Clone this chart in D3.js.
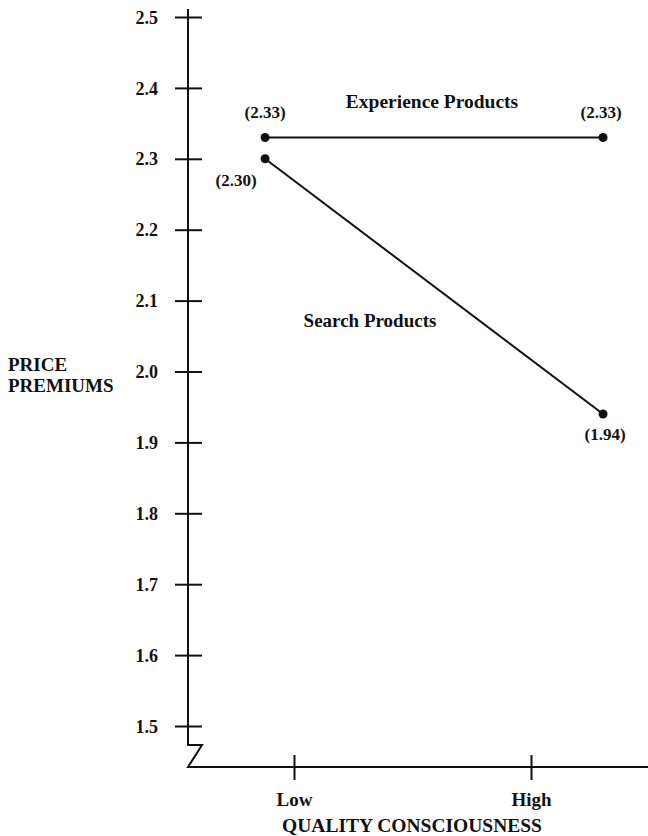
<!DOCTYPE html>
<html>
<head>
<meta charset="utf-8">
<script src="https://cdn.jsdelivr.net/npm/d3@7"></script>
<style>
  html, body { margin: 0; padding: 0; background: #fff; }
  svg { display: block; }
  text { font-family: "Liberation Serif", "Times New Roman", serif; font-weight: bold; fill: #111; }
</style>
</head>
<body>
<svg id="chart" width="648" height="836"></svg>
<script>
// ---- data ----
const categories = ["Low", "High"];
const categoryPos = [1, 2];              // tick positions on the quality axis
const markerPos = [0.878, 2.304];        // where the plotted points sit along that axis
const yTicks = [1.5, 1.6, 1.7, 1.8, 1.9, 2.0, 2.1, 2.2, 2.3, 2.4, 2.5];
const seriesNames = ["Experience Products", "Search Products"];
const experienceValues = [2.33, 2.33];
const searchValues = [2.30, 1.94];
const experienceLabels = ["(2.33)", "(2.33)"];
const searchLabels = ["(2.30)", "(1.94)"];

// ---- layout ----
const svg = d3.select("#chart");
const axisX = 188, axisTopY = 9, breakY = 745, baseY = 767;

const y = d3.scaleLinear().domain([1.5, 2.5]).range([726, 17]);
const x = d3.scaleLinear().domain([1, 2]).range([294, 531]);

const ink = "#111";

// Y axis line with break
svg.append("path")
  .attr("d", `M${axisX},${axisTopY} L${axisX},${breakY} L${axisX + 14},${breakY} L${axisX},${baseY} L648,${baseY}`)
  .attr("fill", "none").attr("stroke", ink).attr("stroke-width", 2).attr("stroke-linejoin", "miter");

// Y ticks (crossing) and labels via d3 axis
const yAxis = d3.axisLeft(y).tickValues(yTicks).tickFormat(d3.format(".1f")).tickSize(0).tickPadding(30);
const gy = svg.append("g").attr("transform", `translate(${axisX},0)`).call(yAxis);
gy.select(".domain").remove();
gy.selectAll(".tick text")
  .attr("font-size", 18).attr("font-family", "Liberation Serif").attr("font-weight", "bold").attr("fill", ink)
  .attr("dy", "0.34em");
gy.selectAll(".tick").append("line")
  .attr("x1", -13).attr("x2", 14).attr("y1", 0).attr("y2", 0)
  .attr("stroke", ink).attr("stroke-width", 2);

// X ticks and labels via d3 axis
const xAxis = d3.axisBottom(x).tickValues(categoryPos)
  .tickFormat((d, i) => categories[i]).tickSize(0).tickPadding(26);
const gx = svg.append("g").attr("transform", `translate(0,${baseY})`).call(xAxis);
gx.select(".domain").remove();
gx.selectAll(".tick text")
  .attr("font-size", 19).attr("font-family", "Liberation Serif").attr("font-weight", "bold").attr("fill", ink);
gx.selectAll(".tick").append("line")
  .attr("x1", 0).attr("x2", 0).attr("y1", -12).attr("y2", 13)
  .attr("stroke", ink).attr("stroke-width", 2);

// Axis titles
svg.append("text").attr("x", 412).attr("y", 832).attr("text-anchor", "middle")
  .attr("font-size", 19.5).text("QUALITY CONSCIOUSNESS");
const yt = svg.append("text").attr("x", 8).attr("y", 371).attr("font-size", 19);
yt.append("tspan").attr("x", 8).attr("y", 371).text("PRICE");
yt.append("tspan").attr("x", 8).attr("y", 392).text("PREMIUMS");

// Series
const line = d3.line().x(d => x(d[0])).y(d => y(d[1]));
const expPts = markerPos.map((p, i) => [p, experienceValues[i]]);
const srchPts = markerPos.map((p, i) => [p, searchValues[i]]);

[expPts, srchPts].forEach(pts => {
  svg.append("path").datum(pts).attr("d", line)
    .attr("fill", "none").attr("stroke", ink).attr("stroke-width", 2);
  svg.selectAll(null).data(pts).enter().append("circle")
    .attr("cx", d => x(d[0])).attr("cy", d => y(d[1])).attr("r", 4.5).attr("fill", ink);
});

// Point labels
svg.append("text").attr("x", x(markerPos[0])).attr("y", y(experienceValues[0]) - 20)
  .attr("text-anchor", "middle").attr("font-size", 17).text(experienceLabels[0]);
svg.append("text").attr("x", x(markerPos[1]) - 2).attr("y", y(experienceValues[1]) - 20)
  .attr("text-anchor", "middle").attr("font-size", 17).text(experienceLabels[1]);
svg.append("text").attr("x", x(markerPos[0]) - 29).attr("y", y(searchValues[0]) + 27)
  .attr("text-anchor", "middle").attr("font-size", 17).text(searchLabels[0]);
svg.append("text").attr("x", x(markerPos[1]) + 2).attr("y", y(searchValues[1]) + 26)
  .attr("text-anchor", "middle").attr("font-size", 17).text(searchLabels[1]);

// Series names
svg.append("text").attr("x", 432).attr("y", 108).attr("text-anchor", "middle")
  .attr("font-size", 19.5).text(seriesNames[0]);
svg.append("text").attr("x", 370).attr("y", 327).attr("text-anchor", "middle")
  .attr("font-size", 19).text(seriesNames[1]);
</script>
</body>
</html>
